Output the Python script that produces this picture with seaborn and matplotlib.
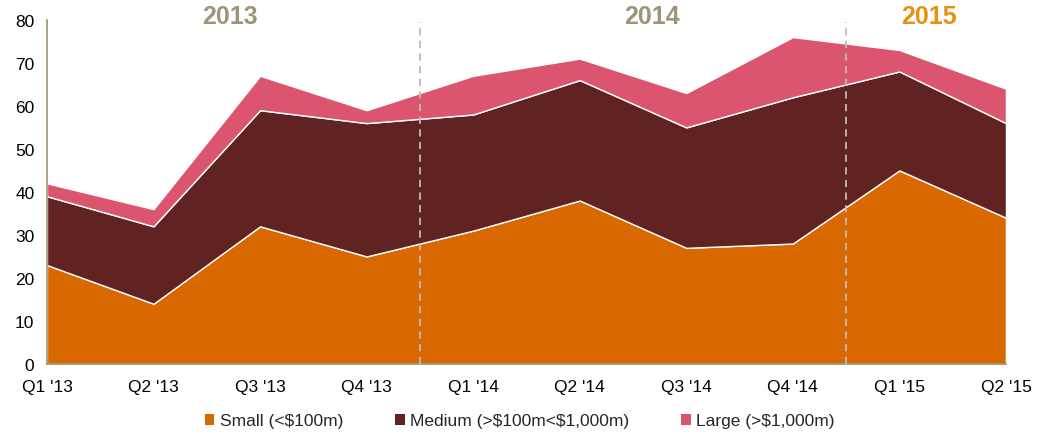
import seaborn as sns
import matplotlib.pyplot as plt
from matplotlib.patches import Patch

# Quarterly deal counts by size
quarters = ["Q1 '13", "Q2 '13", "Q3 '13", "Q4 '13", "Q1 '14",
            "Q2 '14", "Q3 '14", "Q4 '14", "Q1 '15", "Q2 '15"]
small = [23, 14, 32, 25, 31, 38, 27, 28, 45, 34]
medium = [16, 18, 27, 31, 27, 28, 28, 34, 23, 22]
large = [3, 4, 8, 3, 9, 5, 8, 14, 5, 8]
series_names = ["Small (<$100m)", "Medium (>$100m<$1,000m)", "Large (>$1,000m)"]
years = ["2013", "2014", "2015"]
year_pos = [1.72, 5.68, 8.28]
year_breaks = [3.5, 7.5]

colors = ["#DA6800", "#612222", "#DB556E"]
tan = "#9E9273"

sns.set_theme(style="white")
plt.rcParams['font.family'] = ['Liberation Sans', 'DejaVu Sans']
plt.rcParams['text.parse_math'] = False

fig = plt.figure(figsize=(10.39, 4.35), dpi=100)
ax = fig.add_axes([0.0452, 0.161, 0.923, 0.791])

x = list(range(len(quarters)))
ax.stackplot(x, small, medium, large, colors=colors,
             edgecolor="white", linewidth=1.0)

for b in year_breaks:
    ax.plot([b, b], [0, 79.5], ls=(0, (4, 3)), color="#BBBBBB", lw=1.3, zorder=3)

year_colors = ["#9E9478", "#9E9478", "#E8900F"]
for label, pos, c in zip(years, year_pos, year_colors):
    ax.text(pos, 80.8, label, ha="center", va="center", fontsize=18,
            fontweight="bold", color=c, clip_on=False)

ax.set_xlim(0, len(quarters) - 1)
ax.set_ylim(0, 80)
ax.set_xticks(x)
ax.set_xticklabels(quarters)
ax.set_yticks(range(0, 81, 10))
for side in ["top", "right"]:
    ax.spines[side].set_visible(False)
for side in ["left", "bottom"]:
    ax.spines[side].set_color(tan)
    ax.spines[side].set_linewidth(1.2)
ax.tick_params(axis="both", which="both", direction="out", length=5, width=1.2,
               color=tan, labelsize=12.5, labelcolor="black", pad=4)
ax.tick_params(axis="x", length=6, pad=5)
ax.set_xlabel("")
ax.set_ylabel("")

handles = [Patch(facecolor=c, edgecolor="none") for c in colors]
fig.legend(handles, series_names, loc="center", bbox_to_anchor=(0.5, 0.03),
           ncol=3, frameon=False, fontsize=12.5, handlelength=0.55, handleheight=0.55,
           handletextpad=0.3, columnspacing=3.0)

fig.savefig("out.png", dpi=100)
